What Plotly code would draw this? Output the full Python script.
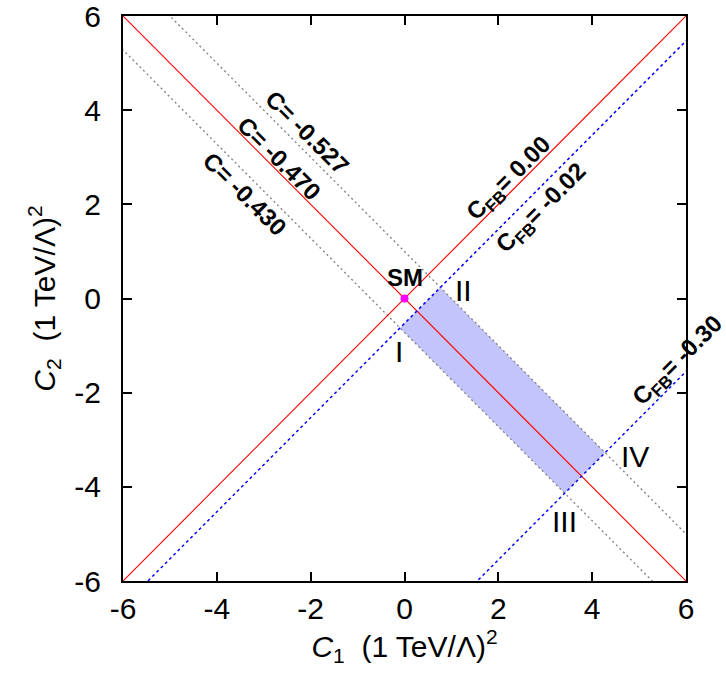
import plotly.graph_objects as go

# Axis settings
X_RANGE = [-6, 6]
Y_RANGE = [-6, 6]
TICK_VALS = [-6, -4, -2, 0, 2, 4, 6]
TICK_TEXT = ["-6", "-4", "-2", "0", "2", "4", "6"]

# Contours of constant C: C2 = -C1 + offset
C_LABELS = ["-0.527", "-0.470", "-0.430"]
C_OFFSETS = [1.0, 0.0, -0.72]
C_LABEL_POS = [(-2.07, 3.52), (-2.67, 2.97), (-3.41, 2.23)]

# Contours of constant C_FB: C2 = C1 + offset
FB_LABELS = ["0.00", "-0.02", "-0.30"]
FB_OFFSETS = [0.0, -0.53, -7.55]
FB_LABEL_POS = [(2.23, 2.53), (2.93, 1.92), (5.83, -1.34)]

# Region labels
REGION_NAMES = ["I", "II", "III", "IV"]
REGION_POS = [(-0.11, -1.13), (1.26, 0.18), (3.42, -4.74), (4.92, -3.35)]

# Standard Model point
SM_POINT = (0.0, 0.0)

RED = "#ff0000"
BLUE = "#0000ff"
GRAY = "#858585"
c_styles = [dict(color=GRAY, width=1.4, dash="2px,3px"),
            dict(color=RED, width=1.1),
            dict(color=GRAY, width=1.4, dash="2px,3px")]
fb_styles = [dict(color=RED, width=1.1),
             dict(color=BLUE, width=1.5, dash="3px,3px"),
             dict(color=BLUE, width=1.5, dash="3px,3px")]


def cross(b, d):
    # intersection of C2 = -C1 + b and C2 = C1 + d
    x = (b - d) / 2.0
    return x, x + d


fig = go.Figure()

# allowed band: between the C = -0.527 / -0.430 contours and C_FB = -0.02 / -0.30 contours
corners = [cross(C_OFFSETS[2], FB_OFFSETS[1]), cross(C_OFFSETS[0], FB_OFFSETS[1]),
           cross(C_OFFSETS[0], FB_OFFSETS[2]), cross(C_OFFSETS[2], FB_OFFSETS[2])]
corners.append(corners[0])
fig.add_trace(go.Scatter(
    x=[p[0] for p in corners], y=[p[1] for p in corners],
    mode="lines", fill="toself", fillcolor="#c4c4fc",
    line=dict(width=0), hoverinfo="skip", showlegend=False))

xs = [X_RANGE[0] - 1, X_RANGE[1] + 1]
for b, st in zip(C_OFFSETS, c_styles):
    fig.add_trace(go.Scatter(x=xs, y=[-x + b for x in xs], mode="lines",
                             line=st, showlegend=False, hoverinfo="skip"))
for d, st in zip(FB_OFFSETS, fb_styles):
    fig.add_trace(go.Scatter(x=xs, y=[x + d for x in xs], mode="lines",
                             line=st, showlegend=False, hoverinfo="skip"))

fig.add_trace(go.Scatter(x=[SM_POINT[0]], y=[SM_POINT[1]], mode="markers",
                         marker=dict(symbol="circle", size=8, color="#ff00ff"),
                         showlegend=False))

bold = dict(family="Liberation Sans, Arial, sans-serif", size=24, color="black")
plain = dict(family="Liberation Sans, Arial, sans-serif", size=30, color="black")

ann = []
for lab, (x, y) in zip(C_LABELS, C_LABEL_POS):
    ann.append(dict(x=x, y=y, text="<b>C= " + lab + "</b>", textangle=45,
                    showarrow=False, font=bold))
for lab, (x, y) in zip(FB_LABELS, FB_LABEL_POS):
    ann.append(dict(x=x, y=y, text="<b>C<sub>FB</sub>= " + lab + "</b>", textangle=-45,
                    showarrow=False, font=bold))
for lab, (x, y) in zip(REGION_NAMES, REGION_POS):
    ann.append(dict(x=x, y=y, text=lab, showarrow=False, font=plain))
ann.append(dict(x=SM_POINT[0] + 0.02, y=SM_POINT[1] + 0.44, text="<b>SM</b>",
                showarrow=False, font=bold))

axis_common = dict(
    range=X_RANGE, tickvals=TICK_VALS, ticktext=TICK_TEXT, automargin=False,
    ticklabeloverflow="allow",
    showgrid=False, zeroline=False, showline=True, linecolor="black", linewidth=2,
    mirror="ticks", ticks="inside", ticklen=9, tickwidth=1.5, tickcolor="black",
    tickfont=plain,
)

fig.update_layout(
    width=726, height=681,
    margin=dict(l=123, r=40, t=16, b=100),
    paper_bgcolor="white", plot_bgcolor="white",
    xaxis=dict(axis_common, ticklabelstandoff=0,
               title=dict(text="<i>C</i><sub>1</sub>\u00a0\u00a0(1 TeV/\u039b)<sup>2</sup>",
                          font=plain, standoff=6)),
    yaxis=dict(axis_common, range=Y_RANGE, ticklabelstandoff=14,
               title=dict(text="<i>C</i><sub>2</sub>\u00a0\u00a0(1 TeV/\u039b)<sup>2</sup>",
                          font=plain, standoff=10)),
    annotations=ann,
)

fig.write_html("out.html")
